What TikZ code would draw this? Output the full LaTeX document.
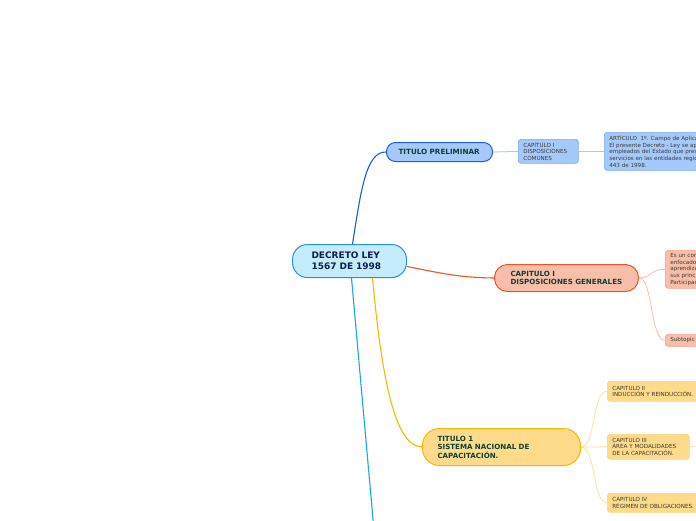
\documentclass[tikz,border=0pt]{standalone}
\usepackage{fontspec}
\setmainfont{DejaVu Sans}
\definecolor{rootfill}{HTML}{C4ECFD}
\definecolor{rootline}{HTML}{2893D2}
\definecolor{roottxt}{HTML}{0C1F4F}
\definecolor{titletxt}{HTML}{0E4030}
\definecolor{smalltxt}{HTML}{3A3A30}
\definecolor{bluefill}{HTML}{A6C9FB}
\definecolor{blueline}{HTML}{1A5FD1}
\definecolor{bluesub}{HTML}{7AABF0}
\definecolor{redfill}{HTML}{F9BEAA}
\definecolor{redline}{HTML}{F05326}
\definecolor{redsub}{HTML}{F4A58C}
\definecolor{yelfill}{HTML}{FDDB8B}
\definecolor{yelline}{HTML}{F9B800}
\definecolor{yelsub}{HTML}{FCD37B}
\definecolor{yelconn}{HTML}{FDE1A0}
\definecolor{cyanline}{HTML}{16A6EC}
\tikzset{
  base/.style={draw, anchor=north west, align=left, inner ysep=0pt},
  mainbox/.style={base, line width=1pt, text=titletxt, font=\bfseries\fontsize{7.1}{8.5}\selectfont},
  smallbox/.style={base, line width=0.7pt, rounded corners=3pt, inner xsep=5pt, text=smalltxt, font=\fontsize{5.6}{6.6}\selectfont},
  mainconn/.style={line width=1.1pt},
  subconn/.style={line width=0.8pt},
}
\begin{document}
\begin{tikzpicture}[x=1pt,y=-1pt]
\useasboundingbox[fill=white] (0,0) rectangle (696,520);

% root
\node[mainbox, fill=rootfill, draw=rootline, text=roottxt, rounded corners=15pt,
  minimum height=33pt, text width=76pt, inner xsep=19pt,
  font=\bfseries\fontsize{9}{11}\selectfont] (root) at (292,244) {DECRETO LEY\\1567 DE 1998};

% blue branch
\node[mainbox, fill=bluefill, draw=blueline, rounded corners=9pt,
  minimum height=19pt, text width=82pt, inner xsep=12pt,
  font=\bfseries\fontsize{7.2}{8}\selectfont] (tp) at (386,142) {TITULO PRELIMINAR};
\node[smallbox, fill=bluefill, draw=bluesub, minimum height=24pt, text width=50pt] (c1) at (518,139)
  {CAPÍTULO I\\DISPOSICIONES\\COMUNES};
\node[smallbox, fill=bluefill, draw=bluesub, minimum height=38pt] (art) at (604,132)
  {ARTÍCULO\ \ 1º. Campo de Aplicación.\\El presente Decreto - Ley se aplica a los\\empleados del Estado que prestan sus\\servicios en las entidades regidas por la Ley\\443 de 1998.};

% red branch
\node[mainbox, fill=redfill, draw=redline, rounded corners=13pt,
  minimum height=27pt, text width=112pt, inner xsep=16pt] (cg) at (494,264)
  {CAPITULO I\\DISPOSICIONES GENERALES};
\node[smallbox, fill=redfill, draw=redsub, minimum height=38pt] (es) at (665,250)
  {Es un conjunto de procesos\\enfocados a la\\aprendizaje\\sus principios\\Participación};
\node[smallbox, fill=redfill, draw=redsub, minimum height=12pt] (sub) at (665,334) {Subtopic};

% yellow branch
\node[mainbox, fill=yelfill, draw=yelline, rounded corners=17pt,
  minimum height=37pt, text width=128pt, inner xsep=15pt] (t1) at (422,428)
  {TITULO 1\\SISTEMA NACIONAL DE\\CAPACITACIÓN.};
\node[smallbox, fill=yelfill, draw=yelsub, minimum height=20pt] (cap2) at (607,381)
  {CAPITULO II\\INDUCCIÓN Y REINDUCCIÓN.};
\node[smallbox, fill=yelfill, draw=yelsub, minimum height=25pt, text width=72pt] (cap3) at (607,434)
  {CAPITULO III\\ÁREA Y MODALIDADES\\DE LA CAPACITACIÓN.};
\node[smallbox, fill=yelfill, draw=yelsub, minimum height=19pt] (cap4) at (607,493)
  {CAPITULO IV\\RÉGIMEN DE OBLIGACIONES.};

\coordinate (bottomend) at (373.5,525);
\coordinate (cap3end) at (700,446.5);

% connectors
\draw[mainconn, blueline] ([xshift=3pt]root.north) .. controls (361,190) and (366,151.5) .. (tp.west);
\draw[mainconn, redline] ([yshift=-5.5pt]root.east) .. controls (445,274) and (460,277.5) .. (cg.west);
\draw[mainconn, yelline] ([xshift=23pt]root.south) .. controls (382,380) and (395,446.5) .. (t1.west);
\draw[mainconn, cyanline] ([xshift=2pt]root.south) -- (bottomend);

\draw[subconn, bluefill] (tp.east) -- (c1.west);
\draw[subconn, bluefill] (c1.east) -- (art.west);

\draw[subconn, redfill] (cg.east) .. controls (653,277.5) and (650,269) .. (es.west);
\draw[subconn, redfill] (cg.east) .. controls (653,277.5) and (650,340) .. (sub.west);

\draw[subconn, yelconn] (t1.east) .. controls (596,446.5) and (592,391) .. (cap2.west);
\draw[subconn, yelconn] (t1.east) -- (cap3.west);
\draw[subconn, yelconn] (t1.east) .. controls (596,446.5) and (592,502.5) .. (cap4.west);
\draw[subconn, yelconn] (cap3.east) -- (cap3end);
\end{tikzpicture}
\end{document}
